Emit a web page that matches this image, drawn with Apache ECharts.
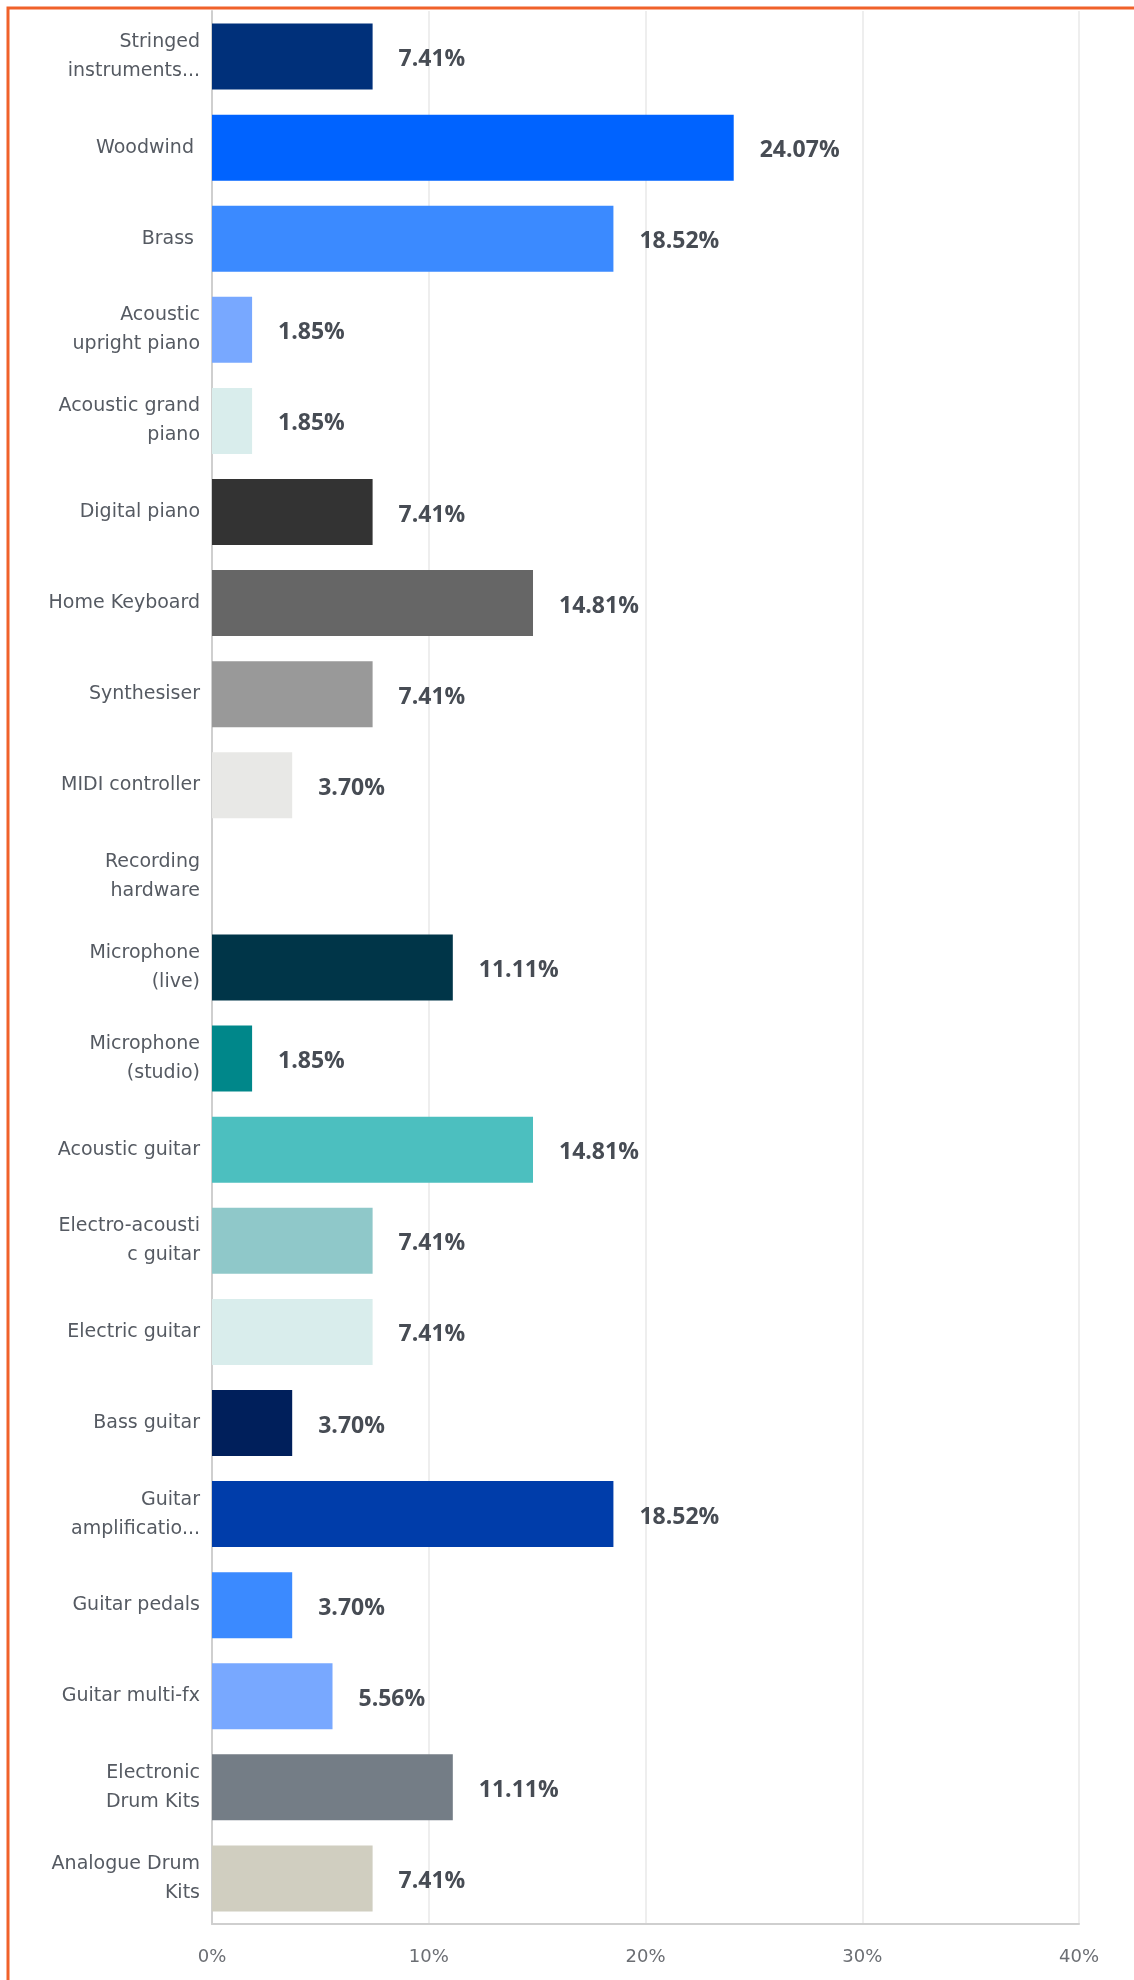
<!DOCTYPE html>
<html>
<head>
<meta charset="utf-8">
<script src="https://cdn.jsdelivr.net/npm/echarts@6/dist/echarts.min.js"></script>
<style>
  html, body { margin: 0; padding: 0; background: #ffffff; }
  #chart { width: 1134px; height: 1980px; }
</style>
</head>
<body>
<div id="chart"></div>
<script>
// Instrument categories (top to bottom)
const categories = [
  'Stringed\ninstruments...',
  'Woodwind ',
  'Brass ',
  'Acoustic\nupright piano',
  'Acoustic grand\npiano',
  'Digital piano',
  'Home Keyboard',
  'Synthesiser',
  'MIDI controller',
  'Recording\nhardware',
  'Microphone\n(live)',
  'Microphone\n(studio)',
  'Acoustic guitar',
  'Electro-acousti\nc guitar',
  'Electric guitar',
  'Bass guitar',
  'Guitar\namplificatio...',
  'Guitar pedals',
  'Guitar multi-fx',
  'Electronic\nDrum Kits',
  'Analogue Drum\nKits'
];

// Share of responses, percent
const values = [
  7.41, 24.07, 18.52, 1.85, 1.85, 7.41, 14.81, 7.41, 3.70, 0,
  11.11, 1.85, 14.81, 7.41, 7.41, 3.70, 18.52, 3.70, 5.56, 11.11, 7.41
];

// One colour per bar
const barColors = [
  '#00307a', '#0063ff', '#3b8aff', '#78a8ff', '#d9edec', '#333333',
  '#666666', '#999999', '#e8e8e6', '#cccccc', '#003548', '#00878a',
  '#4cbfbf', '#8fc8c9', '#d9edec', '#001f5b', '#003daa', '#3b8aff',
  '#78a8ff', '#747d86', '#d0cec0'
];

// X axis ticks
const xTicks = { min: 0, max: 40, step: 10 };

const chart = echarts.init(document.getElementById('chart'), null, { renderer: 'canvas' });

const LABEL_FONT = '"DejaVu Sans", sans-serif';
const VALUE_FONT = '"Open Sans", "Noto Sans", sans-serif';

chart.setOption({
  animation: false,
  backgroundColor: '#ffffff',
  graphic: [{
    type: 'rect',
    shape: { x: 8, y: 8, width: 2000, height: 4000 },
    style: { fill: 'none', stroke: '#f0612a', lineWidth: 3 },
    silent: true
  }],
  grid: { left: 212, right: 55, top: 11, bottom: 56, containLabel: false },
  xAxis: {
    type: 'value',
    min: xTicks.min,
    max: xTicks.max,
    interval: xTicks.step,
    axisLine: { show: true, lineStyle: { color: '#cfcfcf', width: 2 } },
    axisTick: { show: false },
    splitLine: { show: true, lineStyle: { color: '#e8e8e8', width: 1.5 } },
    axisLabel: {
      formatter: '{value}%',
      color: '#6b6e73',
      fontFamily: LABEL_FONT,
      fontSize: 18,
      margin: 24
    }
  },
  yAxis: {
    type: 'category',
    inverse: true,
    data: categories,
    axisLine: { show: true, lineStyle: { color: '#cfcfcf', width: 2 } },
    axisTick: { show: false },
    axisLabel: {
      color: '#555a62',
      fontFamily: LABEL_FONT,
      fontSize: 19,
      lineHeight: 29,
      margin: 12,
      align: 'right',
      padding: [10, 0, 0, 0]
    }
  },
  series: [{
    type: 'bar',
    data: values.map((v, i) => ({ value: v, itemStyle: { color: barColors[i] } })),
    barWidth: 66,
    label: {
      show: true,
      position: 'right',
      distance: 26,
      offset: [0, 3],
      color: '#474c54',
      fontFamily: VALUE_FONT,
      fontWeight: 'bold',
      fontSize: 23,
      formatter: p => (p.value > 0 ? p.value.toFixed(2) + '%' : '')
    }
  }]
});
</script>
</body>
</html>
